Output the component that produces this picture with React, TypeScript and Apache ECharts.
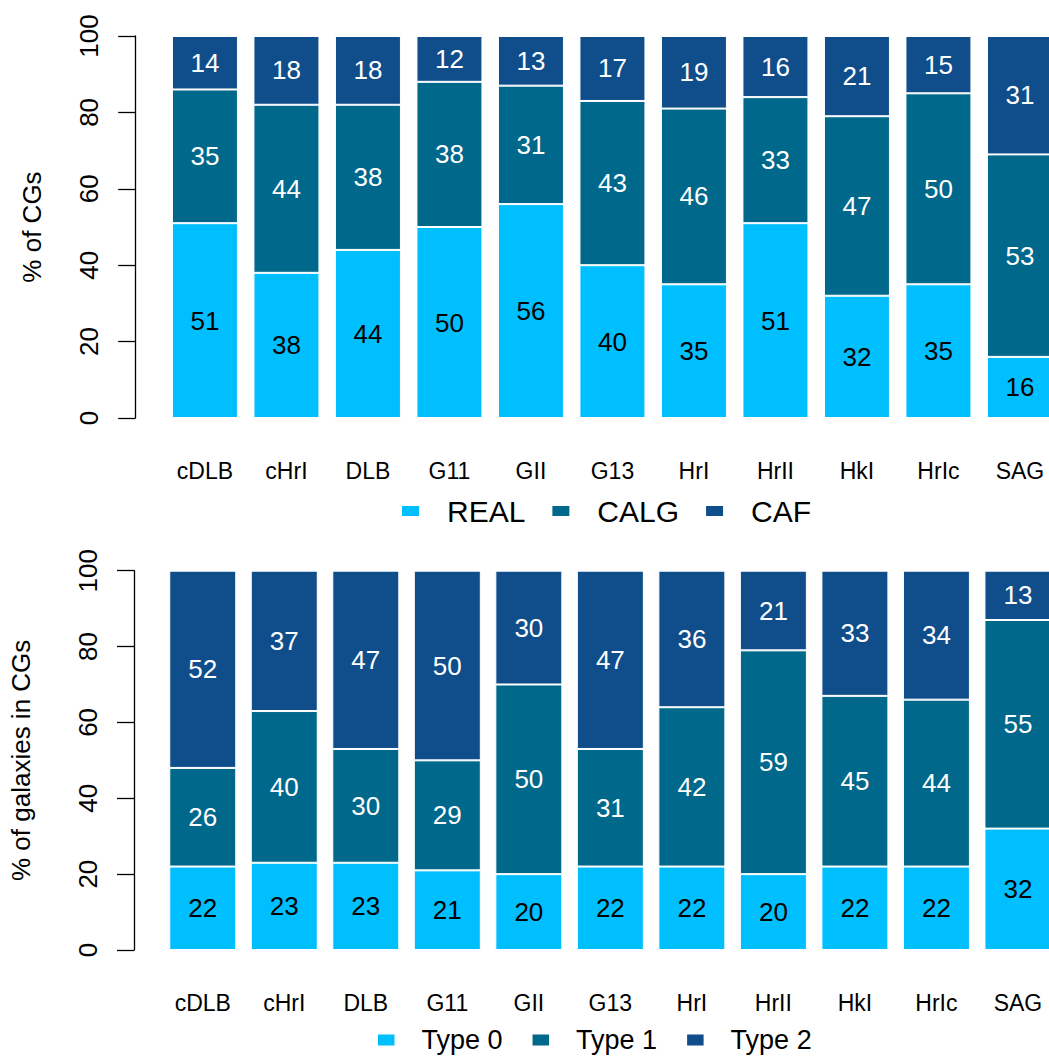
import React, { useEffect, useRef } from "react";
import * as echarts from "echarts";

const categories = ["cDLB", "cHrI", "DLB", "G11", "GII", "G13", "HrI", "HrII", "HkI", "HrIc", "SAG"];

// Top panel: % of CGs
const realValues = [51, 38, 44, 50, 56, 40, 35, 51, 32, 35, 16];
const calgValues = [35, 44, 38, 38, 31, 43, 46, 33, 47, 50, 53];
const cafValues = [14, 18, 18, 12, 13, 17, 19, 16, 21, 15, 31];

// Bottom panel: % of galaxies in CGs
const type0Values = [22, 23, 23, 21, 20, 22, 22, 20, 22, 22, 32];
const type1Values = [26, 40, 30, 29, 50, 31, 42, 59, 45, 44, 55];
const type2Values = [52, 37, 47, 50, 30, 47, 36, 21, 33, 34, 13];

const topNames = ["REAL", "CALG", "CAF"];
const bottomNames = ["Type 0", "Type 1", "Type 2"];

const COLORS = ["#00BFFF", "#00688B", "#104E8B"];
const LABEL_COLORS = ["#000000", "#ffffff", "#ffffff"];
const FONT = "'Liberation Sans', Arial, Helvetica, sans-serif";

const CHART_W = 1065;

function makeXAxis(gridIndex: number) {
  return {
    type: "category",
    gridIndex,
    data: categories,
    axisLine: { show: false },
    axisTick: { show: false },
    axisLabel: { interval: 0, fontSize: 23, color: "#000", margin: 41, fontFamily: FONT },
    splitLine: { show: false },
  };
}

function makeYAxis(gridIndex: number, name: string, offset: number, nameGap: number) {
  return {
    type: "value",
    gridIndex,
    min: 0,
    max: 100,
    interval: 20,
    offset,
    name,
    nameLocation: "middle",
    nameGap,
    nameTextStyle: { fontSize: 26, color: "#000", fontFamily: FONT },
    axisLine: { show: true, lineStyle: { color: "#000", width: 1.3 } },
    axisTick: { show: true, length: 17, lineStyle: { color: "#000", width: 1.3 } },
    axisLabel: { rotate: 90, fontSize: 26, color: "#000", margin: 33, fontFamily: FONT },
    splitLine: { show: false },
  };
}

function makeSeries(names: string[], values: number[][], gridIndex: number, barWidth: number) {
  return names.map((n, i) => ({
    name: n,
    type: "bar",
    stack: "s" + gridIndex,
    xAxisIndex: gridIndex,
    yAxisIndex: gridIndex,
    barWidth,
    data: values[i],
    itemStyle: { color: COLORS[i], borderColor: "#ffffff", borderWidth: 1 },
    label: {
      show: true,
      position: "inside",
      color: LABEL_COLORS[i],
      fontSize: 26,
      fontFamily: FONT,
    },
  }));
}

function makeLegend(names: string[], left: number, top: number, fontSize: number, itemW: number, itemH: number, gap: number, textPad: number, lh: number) {
  return {
    data: names,
    left,
    top,
    orient: "horizontal",
    icon: "rect",
    itemWidth: itemW,
    itemHeight: itemH,
    itemGap: gap,
    itemStyle: { borderWidth: 0 },
    textStyle: { fontSize, color: "#000", fontFamily: FONT, padding: [0, 0, 0, textPad], lineHeight: lh },
  };
}

export default function App() {
  const ref = useRef<HTMLDivElement>(null);
  useEffect(() => {
    if (!ref.current) return;
    const chart = echarts.init(ref.current, undefined, { renderer: "svg" });
    chart.setOption({
      animation: false,
      backgroundColor: "#ffffff",
      textStyle: { fontFamily: FONT },
      grid: [
        { left: 164.2, width: 896.5, top: 36, height: 382 },
        { left: 160, width: 898.7, top: 570.7, height: 379.3 },
      ],
      xAxis: [makeXAxis(0), makeXAxis(1)],
      yAxis: [makeYAxis(0, "% of CGs", 29, 90), makeYAxis(1, "% of galaxies in CGs", 28, 100)],
      legend: [
        makeLegend(topNames, 397, 491, 30, 17, 10, 27, 23, 30),
        makeLegend(bottomNames, 373, 1021, 27, 16.5, 11, 30, 22, 28),
      ],
      series: [
        ...makeSeries(topNames, [realValues, calgValues, cafValues], 0, 66),
        ...makeSeries(bottomNames, [type0Values, type1Values, type2Values], 1, 67),
      ],
    });
    return () => chart.dispose();
  }, []);
  return (
    <div style={{ position: "absolute", left: 0, top: 0, width: 1049, height: 1057, overflow: "hidden" }}>
      <div ref={ref} style={{ width: CHART_W, height: 1057 }} />
    </div>
  );
}
